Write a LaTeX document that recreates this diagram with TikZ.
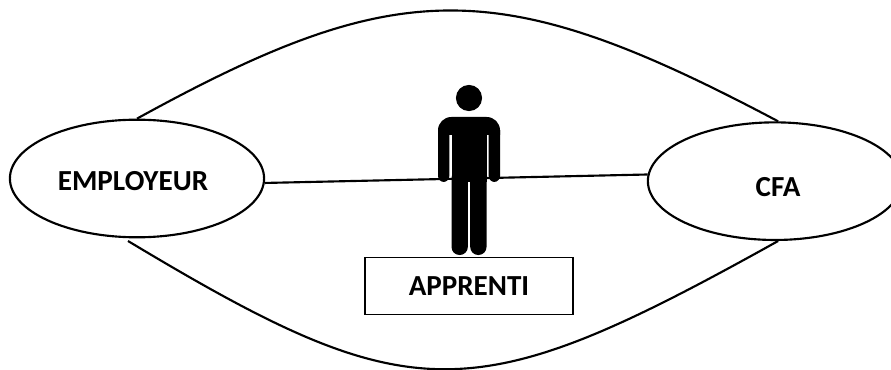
\documentclass[tikz,border=0pt]{standalone}
\usepackage{fontspec}
\setmainfont{Carlito}
\usetikzlibrary{shapes.geometric, positioning}

\begin{document}
\begin{tikzpicture}[
    x=0.75pt, y=-0.75pt,
    party/.style={ellipse, draw, line width=1.6pt, inner sep=0pt, minimum width=6.7cm, minimum height=3.1cm},
    box/.style={rectangle, draw, line width=0.9pt, minimum width=5.48cm, minimum height=1.5cm, font=\fontsize{21.8}{26}\selectfont\bfseries},
    tag/.style={font=\fontsize{21.8}{26}\selectfont\bfseries, inner sep=0pt},
    link/.style={line width=1.6pt}
]
\useasboundingbox (0,0) rectangle (891,370);

% Nodes
\node (employeur) [party] at (137,178.5) {};
\node (cfa) [party, right=10.06cm of employeur, yshift=-2pt] {};
\node (head) [circle, fill=black, inner sep=0pt, minimum size=0.69cm] at (469,98) {};
\node (apprenti) [box, below=3.84cm of head] {APPRENTI};

% Labels
\node (employeurtag) [tag] at (133,181.5) {EMPLOYEUR};
\node (cfatag) [tag] at (778,187) {CFA};

% Links
\coordinate (lowleft) at (128,241);
\draw [link] (employeur.north) .. controls (400,-26) and (500,-26) .. (cfa.87);
\draw [link] (lowleft) .. controls (413,412) and (471,412) .. (cfa.-87);
\draw [link] (employeur.-2) -- (cfa.177);

% Person
\fill (438,135) {[rounded corners=10pt] -- (438,117) -- (500,117)} -- (500,135) -- cycle;
\fill (438,130) {[rounded corners=4.5pt] -- (438,182) -- (449.3,182)} -- (449.3,130) -- cycle;
\fill (488.7,130) {[rounded corners=4.5pt] -- (488.7,182) -- (500,182)} -- (500,130) -- cycle;
\fill (451.5,130) rectangle (486.5,181.7);
\fill [rounded corners=6pt] (451.5,170) -- (451.5,255) -- (467.8,255) -- (467.8,170) -- cycle;
\fill [rounded corners=6pt] (470.2,170) -- (470.2,255) -- (486.5,255) -- (486.5,170) -- cycle;
\end{tikzpicture}
\end{document}
